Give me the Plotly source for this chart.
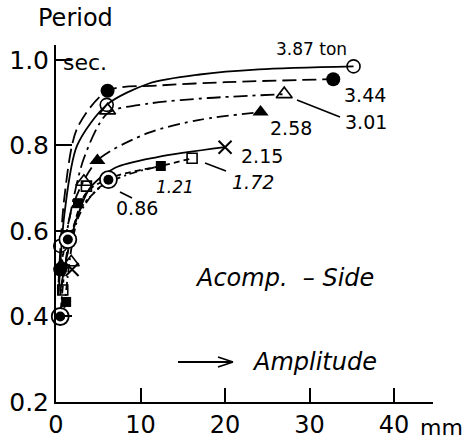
import plotly.graph_objects as go

# ---- measured points (amplitude in mm, period in sec) ----
labels = ["3.87 ton", "3.44", "3.01", "2.58", "2.15", "1.72", "1.21", "0.86"]

amp_387 = [0.5, 6.0, 35.2]
per_387 = [0.565, 0.895, 0.985]

amp_344 = [0.5, 6.1, 32.8]
per_344 = [0.51, 0.928, 0.955]

amp_301 = [1.8, 3.3, 6.1, 27.0]
per_301 = [0.527, 0.715, 0.882, 0.92]

amp_258 = [0.6, 4.9, 24.2]
per_258 = [0.52, 0.765, 0.878]

amp_215 = [1.9, 20.0]
per_215 = [0.51, 0.796]

amp_172 = [0.8, 3.6, 16.1]
per_172 = [0.462, 0.705, 0.77]

amp_121 = [1.2, 2.6, 12.4]
per_121 = [0.434, 0.665, 0.752]

amp_086 = [0.5, 1.4, 6.2]
per_086 = [0.40, 0.58, 0.72]

# ---- fitted curves ----
fit_387_x = [0.3, 1.0, 2.5, 6.0, 11.0, 17.0, 24.0, 35.2]
fit_387_y = [0.45, 0.64, 0.80, 0.895, 0.945, 0.966, 0.978, 0.985]

fit_344_x = [0.3, 1.0, 2.5, 6.1, 12.0, 20.0, 32.8]
fit_344_y = [0.48, 0.68, 0.84, 0.928, 0.940, 0.948, 0.955]

fit_301_x = [0.5, 1.5, 3.3, 6.1, 11.0, 18.0, 27.0]
fit_301_y = [0.50, 0.62, 0.77, 0.875, 0.898, 0.911, 0.92]

fit_258_x = [0.5, 2.0, 4.9, 11.0, 17.0, 24.2]
fit_258_y = [0.50, 0.66, 0.765, 0.83, 0.860, 0.878]

fit_215_x = [0.5, 2.0, 4.0, 7.0, 12.0, 20.0]
fit_215_y = [0.46, 0.60, 0.70, 0.748, 0.773, 0.796]

fit_172_x = [0.5, 1.5, 3.6, 7.0, 12.4, 16.1]
fit_172_y = [0.45, 0.56, 0.69, 0.728, 0.752, 0.77]

fit_121_x = [1.0, 2.6, 5.0, 8.5, 12.4]
fit_121_y = [0.42, 0.63, 0.70, 0.732, 0.752]

fit_086_x = [0.5, 1.4, 3.0, 6.2]
fit_086_y = [0.40, 0.56, 0.655, 0.72]

x_ticks = [0, 10, 20, 30, 40]
y_ticks = [0.2, 0.4, 0.6, 0.8, 1.0]
y_ticktext = ["0.2", "0.4", "0.6", "0.8", "1.0"]

# ---- layout geometry (pixels) ----
W, H = 472, 444
L, R, T, B = 56, 39, 45, 42
PW, PH = W - L - R, H - T - B

def px(x):
    return (x - L) / PW

def py(y):
    return (H - B - y) / PH

FONT = "DejaVu Sans, Liberation Sans, sans-serif"

fig = go.Figure()

series = [
    (fit_387_x, fit_387_y, amp_387, per_387, "solid",
     dict(symbol="circle-open", size=13, color="black", line=dict(width=1.6, color="black"))),
    (fit_344_x, fit_344_y, amp_344, per_344, "14px,6px",
     dict(symbol="circle", size=14, color="black")),
    (fit_301_x, fit_301_y, amp_301, per_301, "14px,5px,3px,5px",
     dict(symbol="triangle-up-open", size=14, color="black", line=dict(width=1.6, color="black"))),
    (fit_258_x, fit_258_y, amp_258, per_258, "12px,5px,3px,5px",
     dict(symbol="triangle-up", size=14, color="black")),
    (fit_215_x, fit_215_y, amp_215, per_215, "solid",
     dict(symbol="x-thin-open", size=13, color="black", line=dict(width=2, color="black"))),
    (fit_172_x, fit_172_y, amp_172, per_172, "6px,4px",
     dict(symbol="square-open", size=10, color="black", line=dict(width=1.6, color="black"))),
    (fit_121_x, fit_121_y, amp_121, per_121, "8px,4px,2px,4px",
     dict(symbol="square", size=10, color="black")),
    (fit_086_x, fit_086_y, amp_086, per_086, "3px,3px,8px,3px", None),
]

for (fx, fy, xs, ys, dash, mk), name in zip(series, labels):
    fig.add_trace(go.Scatter(
        x=fx, y=fy, mode="lines", name=name,
        line=dict(color="black", width=1.8, dash=dash, shape="spline", smoothing=0.8),
        showlegend=False, hoverinfo="skip"))
    if mk is not None:
        fig.add_trace(go.Scatter(x=xs, y=ys, mode="markers", marker=mk,
                                 showlegend=False, cliponaxis=False))

# bullseye markers for 0.86
fig.add_trace(go.Scatter(x=amp_086, y=per_086, mode="markers", cliponaxis=False,
                         marker=dict(symbol="circle", size=17, color="white",
                                     line=dict(width=1.8, color="black")),
                         showlegend=False))
fig.add_trace(go.Scatter(x=amp_086, y=per_086, mode="markers", cliponaxis=False,
                         marker=dict(symbol="circle", size=10, color="black"),
                         showlegend=False))

ann = []
def text(t, x, y, size=20, italic=False, xanchor="center"):
    ann.append(dict(text=t, x=px(x), y=py(y), xref="paper", yref="paper",
                    showarrow=False, xanchor=xanchor, yanchor="middle",
                    font=dict(family=FONT, size=size, color="black",
                              style="italic" if italic else "normal")))

text("Period", 75, 18, size=24)
text("sec.", 85, 62, size=22)
text("3.87 ton", 311, 49, size=17)
text("3.44", 365, 95, size=19)
text("3.01", 366, 122, size=19)
text("2.58", 291, 128, size=19)
text("2.15", 262, 156, size=19)
text("1.72", 253, 182, size=19, italic=True)
text("1.21", 175, 187, size=17, italic=True)
text("0.86", 137, 208, size=19)
text("Acomp.  \u2013 Side", 284, 278, size=24, italic=True)
text("Amplitude", 314, 362, size=24, italic=True)
text("mm", 441, 427, size=22)
fig.update_layout(annotations=ann)

# leader lines and arrow
shapes = []
def seg(x0, y0, x1, y1, w=1.6):
    shapes.append(dict(type="line", xref="paper", yref="paper",
                       x0=px(x0), y0=py(y0), x1=px(x1), y1=py(y1),
                       line=dict(color="black", width=w)))
seg(297, 100, 340, 117)
seg(205, 163, 226, 171)
seg(120, 192, 132, 198)
seg(178, 362, 232, 362, 1.8)
seg(218, 357, 233, 362, 1.8)
seg(218, 367, 233, 362, 1.8)
fig.update_layout(shapes=shapes)

fig.update_xaxes(range=[0, 44.6], tickvals=x_ticks, ticks="inside", ticklen=14,
                 tickwidth=1.6, tickcolor="black", showline=True, linecolor="black",
                 linewidth=2, showgrid=False, zeroline=False, ticklabelstandoff=0,
                 automargin=False,
                 tickfont=dict(family=FONT, size=24, color="black"))
fig.update_yaxes(range=[0.2, 1.035], tickvals=y_ticks, ticktext=y_ticktext,
                 ticks="inside", ticklen=16, tickwidth=1.6, tickcolor="black",
                 showline=True, linecolor="black", linewidth=2, showgrid=False,
                 zeroline=False, automargin=False,
                 tickfont=dict(family=FONT, size=25, color="black"))

fig.update_layout(width=W, height=H, margin=dict(l=L, r=R, t=T, b=B),
                  plot_bgcolor="white", paper_bgcolor="white", showlegend=False)

fig.write_html("out.html")
